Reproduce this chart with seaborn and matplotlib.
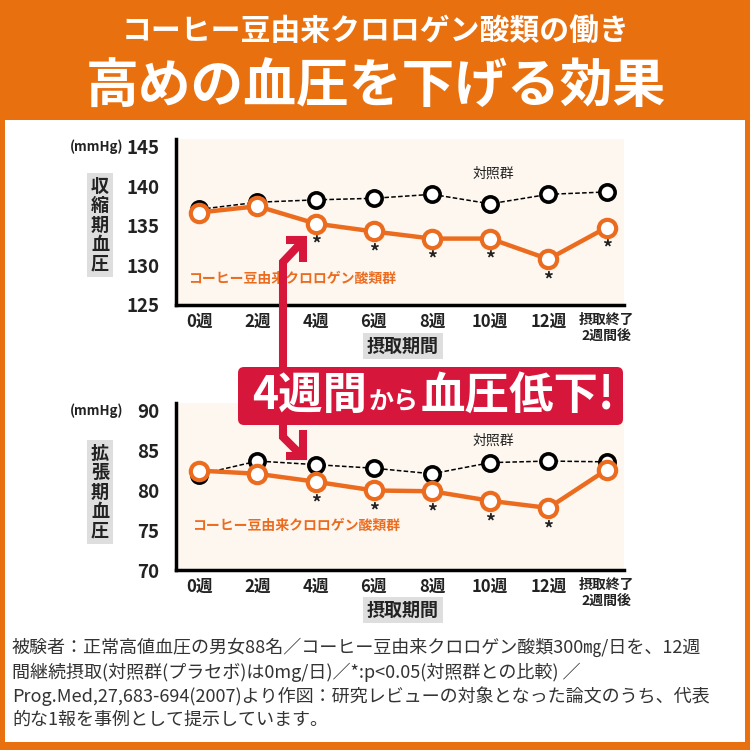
import matplotlib
matplotlib.use("Agg")
import matplotlib.pyplot as plt
import seaborn as sns
import pandas as pd
from matplotlib.patches import Rectangle, FancyBboxPatch
from matplotlib.lines import Line2D

# values
weeks = ["0週", "2週", "4週", "6週", "8週", "10週", "12週", "摂取終了\n2週間後"]
sys_control = [137.1, 138.0, 138.3, 138.5, 139.0, 137.8, 139.0, 139.3]
sys_coffee = [136.7, 137.5, 135.3, 134.3, 133.4, 133.4, 130.8, 134.8]
dia_control = [82.0, 83.7, 83.25, 82.8, 82.1, 83.5, 83.7, 83.6]
dia_coffee = [82.5, 82.1, 81.1, 80.0, 79.9, 78.7, 77.8, 82.6]
sys_signif = [False, False, True, True, True, True, True, True]
dia_signif = [False, False, True, True, True, True, True, False]

ORANGE = "#E9700F"
LINE_OR = "#EC6C1F"
RED = "#D7163B"
CREAM = "#FDF7F0"
GREY = "#DEDEDE"
DARK = "#222222"

sns.set_style("white")
plt.rcParams["font.family"] = ["Noto Sans CJK JP", "DejaVu Sans"]

fig = plt.figure(figsize=(7.5, 7.5), dpi=100, facecolor=ORANGE)


def px(x, y):
    return x / 750, 1 - y / 750


# white panel
fig.add_artist(Rectangle(px(5, 742), 740 / 750, 622 / 750, transform=fig.transFigure,
                         facecolor="white", edgecolor="none", zorder=-5))

# header
fig.text(*px(376, 31), "コーヒー豆由来クロロゲン酸類の働き", color="white", fontsize=21.5,
         fontweight="bold", ha="center", va="center")
fig.text(*px(376, 87), "高めの血圧を下げる効果", color="white", fontsize=38,
         fontweight="bold", ha="center", va="center")


def draw_panel(rect, control, coffee, signif, ylim, yticks, ylabel, ctrl_pos, cof_pos, box_y):
    ax = fig.add_axes(rect)
    ax.set_facecolor(CREAM)
    df = pd.DataFrame({"pos": range(len(weeks)), "control": control, "coffee": coffee})
    sns.lineplot(data=df, x="pos", y="control", ax=ax, color="black", linestyle=(0, (3, 1.5)),
                 linewidth=1.1, marker="o", markersize=11, markerfacecolor="white",
                 markeredgecolor="black", markeredgewidth=2.6, zorder=3)
    sns.lineplot(data=df, x="pos", y="coffee", ax=ax, color=LINE_OR, linewidth=3.2,
                 marker="o", markersize=12.5, markerfacecolor="white",
                 markeredgecolor=LINE_OR, markeredgewidth=3.0, zorder=4)
    for i, s in enumerate(signif):
        if s:
            ax.annotate("*", (df["pos"][i], df["coffee"][i]), xytext=(0, -15),
                        textcoords="offset points", ha="center", va="center",
                        fontsize=14, fontweight="bold", color=DARK)
    ax.set_xlim(-0.4, 7.3)
    ax.set_ylim(*ylim)
    ax.set_yticks(yticks)
    ax.set_xticks(range(len(weeks)))
    ax.set_xticklabels(weeks)
    ax.set_xlabel("")
    ax.set_ylabel("")
    for sp in ["top", "right"]:
        ax.spines[sp].set_visible(False)
    for sp in ["left", "bottom"]:
        ax.spines[sp].set_linewidth(2.5)
        ax.spines[sp].set_color("black")
    ax.tick_params(axis="y", direction="out", length=9, width=2.5, labelsize=13.5,
                   pad=3, colors="black")
    ax.tick_params(axis="x", direction="in", length=6, width=2.5, labelsize=12,
                   pad=6, colors="black")
    for lab in ax.get_yticklabels():
        lab.set_fontweight("bold")
        lab.set_color(DARK)
    for lab in ax.get_xticklabels():
        lab.set_fontweight("bold")
        lab.set_color(DARK)
        lab.set_va("top")
    last = ax.get_xticklabels()[-1]
    last.set_fontsize(10)
    last.set_linespacing(1.1)
    ax.text(*ctrl_pos, "対照群", fontsize=10, color=DARK, ha="center", va="center")
    ax.text(*cof_pos, "コーヒー豆由来クロロゲン酸類群", fontsize=10, fontweight="bold",
            color=LINE_OR, ha="left", va="center")
    # units and vertical label
    fig.text(*px(123, box_y[0]), "(mmHg)", fontsize=9.5, fontweight="bold", color=DARK,
             ha="right", va="center")
    fig.text(*px(100, box_y[1]), "\n".join(ylabel), fontsize=13, fontweight="bold",
             color=DARK, ha="center", va="center", linespacing=1.02,
             bbox=dict(boxstyle="square,pad=0.22", facecolor=GREY, edgecolor="none"))
    fig.text(*px(403, box_y[2]), "摂取期間", fontsize=13, fontweight="bold", color=DARK,
             ha="center", va="center",
             bbox=dict(boxstyle="square,pad=0.2", facecolor=GREY, edgecolor="none"))
    return ax


draw_panel([176 / 750, 1 - 305 / 750, 448 / 750, 166 / 750], sys_control, sys_coffee, sys_signif,
           (125, 146), [125, 130, 135, 140, 145], "収縮期血圧", (5.05, 141.6), (-0.19, 128.3),
           (147, 225, 346))
draw_panel([176 / 750, 1 - 570 / 750, 448 / 750, 167 / 750], dia_control, dia_coffee, dia_signif,
           (70, 91), [70, 75, 80, 85, 90], "拡張期血圧", (5.05, 86.25), (-0.12, 75.5),
           (411, 492, 610))

# red arrow from banner to 4週
def red_line(points, lw=5.8):
    xs = [p[0] / 750 for p in points]
    ys = [1 - p[1] / 750 for p in points]
    fig.add_artist(Line2D(xs, ys, transform=fig.transFigure, color=RED, linewidth=lw,
                          solid_joinstyle="miter", solid_capstyle="butt", zorder=5))


red_line([(283, 438), (283, 262), (301, 243)])
red_line([(286, 240), (303, 240), (303, 262)])
red_line([(283, 400), (283, 437), (301, 455)])
red_line([(286, 456), (303, 456), (303, 430)])

# banner
fig.add_artist(FancyBboxPatch(px(241, 422), 379 / 750, 52 / 750, transform=fig.transFigure,
                              boxstyle="round,pad=0.004,rounding_size=0.008",
                              facecolor=RED, edgecolor="none", zorder=6))
t1 = fig.text(*px(252, 396), "4週間", fontsize=32, fontweight="bold", color="white",
              ha="left", va="center", zorder=7)
fig.canvas.draw()
r = fig.canvas.get_renderer()
e1 = t1.get_window_extent(r)
t2 = fig.text(e1.x1 / 750 + 0.002, 1 - 402 / 750, "から", fontsize=18, fontweight="bold",
              color="white", ha="left", va="center", zorder=7)
e2 = t2.get_window_extent(r)
fig.text(e2.x1 / 750 + 0.003, 1 - 396 / 750, "血圧低下!", fontsize=32, fontweight="bold",
         color="white", ha="left", va="center", zorder=7)

# footer note
note = ("被験者：正常高値血圧の男女88名／コーヒー豆由来クロロゲン酸類300㎎/日を、12週\n"
        "間継続摂取(対照群(プラセボ)は0mg/日)／*:p<0.05(対照群との比較) ／\n"
        "Prog.Med,27,683-694(2007)より作図：研究レビューの対象となった論文のうち、代表\n"
        "的な1報を事例として提示しています。")
fig.text(*px(12, 638), note, fontsize=13, color="#333333", ha="left", va="top",
         linespacing=1.32)

fig.savefig("out.png", dpi=100, facecolor=ORANGE)
